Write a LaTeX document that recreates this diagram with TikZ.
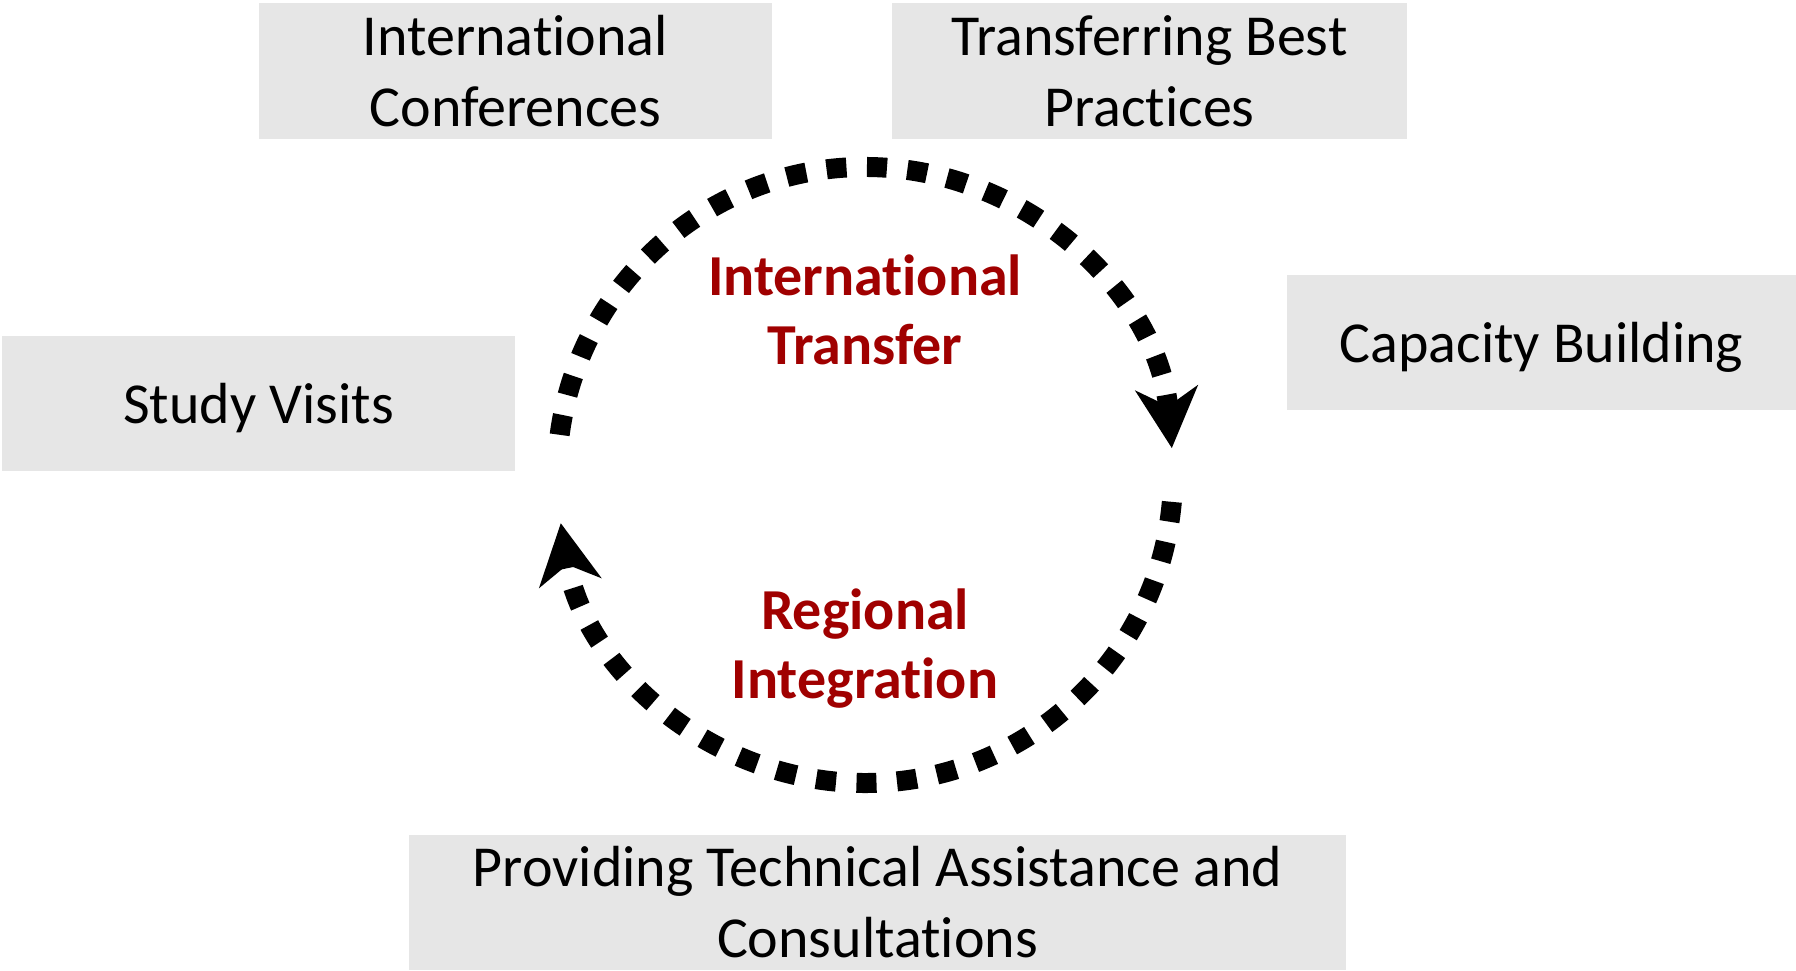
\documentclass[tikz,border=0pt]{standalone}
\usepackage{fontspec}
\setmainfont[Ligatures=NoCommon]{Carlito}
\usetikzlibrary{arrows.meta}
\definecolor{boxgray}{HTML}{E6E6E6}
\definecolor{labelred}{HTML}{A00000}
\begin{document}
\begin{tikzpicture}[x=1pt,y=1pt,
  infobox/.style={fill=boxgray, draw=none, inner sep=0pt, align=center,
    font=\fontsize{58}{71}\selectfont},
  oneline/.style={text height=46pt, text depth=5pt},
  cyclelabel/.style={text=labelred, align=center, inner sep=0pt,
    font=\fontsize{58}{69}\selectfont\bfseries},
  cyclearc/.style={line width=20pt, dash pattern=on 20pt off 20.5pt,
    -{Stealth[length=60pt, width=62pt, inset=18pt]}}]
\useasboundingbox (0,0) rectangle (1796,970);
\node[infobox, minimum width=513pt, minimum height=136pt] (conf) at (515.5,899) {International\\Conferences};
\node[infobox, minimum width=515pt, minimum height=136pt] (best) at (1149.5,899) {Transferring Best\\Practices};
\node[infobox, oneline, minimum width=509pt, minimum height=135pt] (cap) at (1541.5,627.5) {Capacity Building};
\node[infobox, oneline, minimum width=513pt, minimum height=135pt] (study) at (258.5,566.5) {Study Visits};
\node[infobox, minimum width=937pt, minimum height=135pt] (tech) at (877.5,67.5) {Providing Technical Assistance and\\Consultations};
\coordinate (c) at (865,495);
\coordinate (upstart) at ([shift={(172.5:308)}]c);
\coordinate (lowstart) at ([shift={(-5:308)}]c);
\draw[cyclearc] (upstart) arc[start angle=172.5, end angle=5, radius=308];
\draw[cyclearc] (lowstart) arc[start angle=-5, end angle=-171, radius=308];
\node[cyclelabel] (intl) at (865,660) {International\\Transfer};
\node[cyclelabel] (reg) at (865,321) {Regional\\Integration};
\end{tikzpicture}
\end{document}
